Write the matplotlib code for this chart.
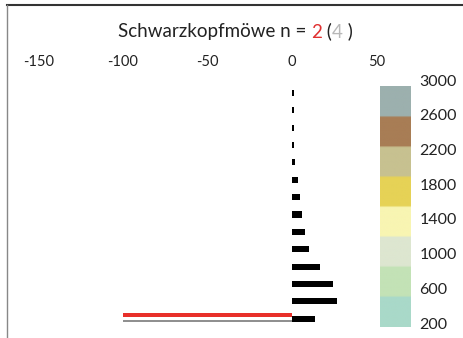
import matplotlib
matplotlib.use("Agg")
import matplotlib.pyplot as plt
import numpy as np
from matplotlib.colors import LinearSegmentedColormap
from matplotlib.lines import Line2D

plt.rcParams['font.family'] = ['Lato', 'DejaVu Sans']

# data
levels = [250, 450, 650, 850, 1050, 1250, 1450, 1650, 1850, 2050, 2250, 2450, 2650, 2850]
black_vals = [13.5, 26.5, 24, 16.5, 10, 8, 6, 5, 3.5, 2, 1.5, 1.5, 1, 1.5]
red_level = 290
red_val = -100
grey_level = 225
grey_val = -100
xticks = [-150, -100, -50, 0, 50]
cbar_ticks = [200, 600, 1000, 1400, 1800, 2200, 2600, 3000]
# colour bands, bottom to top
band_colors = ['#a9d9c9', '#c3e2b6', '#dde6d0', '#f8f5b2', '#e6d256', '#c7c190', '#a87d55', '#9cb0ae']

W, H = 464, 338
fig = plt.figure(figsize=(W / 100, H / 100), dpi=100)

def ax_rect(l, t, r, b):
    return [l / W, 1 - b / H, (r - l) / W, (b - t) / H]

ax = fig.add_axes(ax_rect(20, 75, 382, 335))
ax.set_xlim(-161, 53.3)
ax.set_ylim(62, 3057)
for s in ax.spines.values():
    s.set_visible(False)
ax.barh(levels, black_vals, height=70, color='black', left=0)
ax.barh([red_level], [red_val], height=50, color='#e8302a')
ax.barh([grey_level], [grey_val], height=22, color='#909090')
ax.set_yticks([])
ax.set_xticks(xticks)
ax.set_xticklabels([str(v) for v in xticks])
ax.xaxis.tick_top()
ax.tick_params(axis='x', length=0, labelsize=10.5, pad=4, colors='#222222')

# colorbar (banded)
n = len(band_colors)
nodes = []
cols = []
for i, c in enumerate(band_colors):
    a = i / n
    b = (i + 1) / n
    nodes += [a + 0.02 / n if i else 0.0, b - 0.02 / n if i < n - 1 else 1.0]
    cols += [c, c]
cmap = LinearSegmentedColormap.from_list('alt', list(zip(nodes, cols)))
cax = fig.add_axes(ax_rect(380, 80, 411, 327))
cax.imshow(np.linspace(0, 1, 512)[:, None], aspect='auto', cmap=cmap,
           origin='lower', extent=[0, 1, 154, 2920])
cax.set_xlim(0, 1)
cax.set_ylim(154, 3000)
cax.set_xticks([])
cax.yaxis.tick_right()
cax.set_yticks(cbar_ticks)
cax.tick_params(axis='y', length=0, labelsize=11.5, pad=6, colors='#222222')
for s in cax.spines.values():
    s.set_visible(False)
cax.patch.set_alpha(0)

# title pieces
fs = 13.5
t1 = fig.text(118 / W, 1 - 32 / H, 'Schwarzkopfmöwe n = ', fontsize=fs, color='#222222', va='center', ha='left')
t2 = ax.annotate('2', xy=(1, 0), xycoords=t1, fontsize=fs, color='#e03030', va='bottom', ha='left')
t3 = ax.annotate(' (', xy=(1, 0), xycoords=t2, fontsize=fs, color='#222222', va='bottom', ha='left')
t4 = ax.annotate('4', xy=(1, 0), xycoords=t3, fontsize=fs, color='#b8b8b8', va='bottom', ha='left')
t5 = ax.annotate(' )', xy=(1, 0), xycoords=t4, fontsize=fs, color='#222222', va='bottom', ha='left')

# scan border lines
fig.add_artist(Line2D([7 / W, 1], [1 - 5 / H, 1 - 5 / H], color='#333333', lw=1.5))
fig.add_artist(Line2D([7 / W, 7 / W], [0, 1 - 5 / H], color='#888888', lw=1.0))

fig.savefig('out.png', dpi=100)
